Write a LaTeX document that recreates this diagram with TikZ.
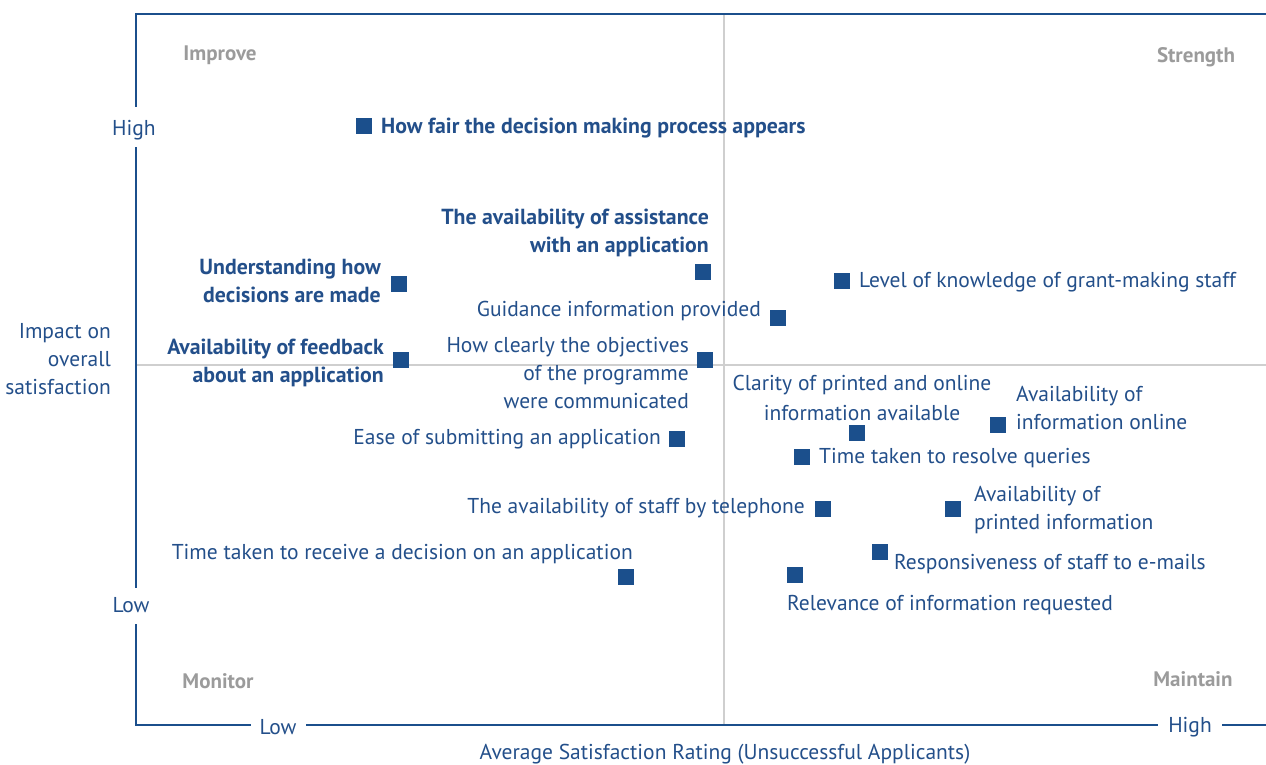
\documentclass[tikz,border=0pt]{standalone}
\usepackage{fontspec}
\setmainfont{PT Sans}
\definecolor{cblue}{HTML}{1B4F8C}
\definecolor{tblue}{HTML}{234F8A}
\definecolor{qgray}{HTML}{9B9B9B}
\definecolor{mgray}{HTML}{CFCFCF}
\tikzset{
  pt/.style={fill=cblue, minimum size=16pt, inner sep=0pt, outer sep=0pt},
  lbl/.style={text=tblue, inner sep=0pt, yshift=-4pt, font=\fontsize{21.5}{25}\selectfont},
  blbl/.style={text=tblue, inner sep=0pt, yshift=-4pt, font=\fontsize{21.8}{25}\selectfont\bfseries},
  quad/.style={text=qgray, inner sep=0pt, yshift=-2pt, font=\fontsize{21}{24}\selectfont\bfseries},
  axis/.style={draw=cblue, line width=2.9pt},
  mid/.style={draw=mgray, line width=1.3pt},
}
\begin{document}
\begin{tikzpicture}[x=1pt,y=-1pt]
\useasboundingbox (0,0) rectangle (1266,764);
% mid lines
\coordinate (vt) at (724,14); \coordinate (vb) at (724,725);
\coordinate (hl) at (136,365); \coordinate (hr) at (1266,365);
\draw[mid] (vt) -- (vb);
\draw[mid] (hl) -- (hr);
% axes
\coordinate (tr) at (1266,14);
\coordinate (tl) at (136,14);
\coordinate (lh1) at (136,107); \coordinate (lh2) at (136,147);
\coordinate (ll1) at (136,588); \coordinate (ll2) at (136,624);
\coordinate (bl) at (136,725);
\coordinate (bx1) at (251,725); \coordinate (bx2) at (306,725);
\coordinate (bx3) at (1158,725); \coordinate (bx4) at (1222,725);
\coordinate (br) at (1266,725);
\draw[axis] (tr) -- (tl) -- (lh1);
\draw[axis] (lh2) -- (ll1);
\draw[axis] (ll2) -- (bl) -- (bx1);
\draw[axis] (bx2) -- (bx3);
\draw[axis] (bx4) -- (br);
% axis labels
\node[lbl, yshift=1pt] (yhigh) at (134,127) {High};
\node[lbl, yshift=1pt] (ylow) at (131,602) {Low};
\node[lbl, anchor=mid east] (ya) at (111,332) {Impact on};
\node[lbl, anchor=mid east] (yb) at (111,360) {overall};
\node[lbl, anchor=mid east] (yc) at (111,388) {satisfaction};
\node[lbl, yshift=1pt] (xlow) at (278,724) {Low};
\node[lbl, yshift=1pt] (xhigh) at (1190,724) {High};
\node[lbl, yshift=1pt] (xt) at (725,751) {Average Satisfaction Rating (Unsuccessful Applicants)};
% quadrant labels
\node[quad] (q1) at (220,53) {Improve};
\node[quad] (q2) at (1196,55) {Strength};
\node[quad] (q3) at (218,679) {Monitor};
\node[quad] (q4) at (1193,677) {Maintain};
% points
\node[pt] (p1) at (364,126) {};
\node[blbl, anchor=mid west] (t1) at (381,127) {How fair the decision making process appears};
\node[pt] (p2) at (703,272) {};
\node[blbl, anchor=mid east] (t2a) at (709,218) {The availability of assistance};
\node[blbl, anchor=mid east] (t2b) at (709,246) {with an application};
\node[pt] (p3) at (399,284) {};
\node[blbl, anchor=mid east] (t3a) at (381,268) {Understanding how};
\node[blbl, anchor=mid east] (t3b) at (381,296) {decisions are made};
\node[pt] (p4) at (842,281) {};
\node[lbl, anchor=mid west] (t4) at (859,281) {Level of knowledge of grant-making staff};
\node[pt] (p5) at (778,318) {};
\node[lbl, anchor=mid east] (t5) at (761,310) {Guidance information provided};
\node[pt] (p6) at (401,360) {};
\node[blbl, anchor=mid east] (t6a) at (384,348) {Availability of feedback};
\node[blbl, anchor=mid east] (t6b) at (384,376) {about an application};
\node[pt] (p7) at (705,360) {};
\node[lbl, anchor=mid east] (t7a) at (689,346) {How clearly the objectives};
\node[lbl, anchor=mid east] (t7b) at (689,374) {of the programme};
\node[lbl, anchor=mid east] (t7c) at (689,402) {were communicated};
\node[pt] (p8) at (857,433) {};
\node[lbl] (t8a) at (862,381) {Clarity of printed and online};
\node[lbl] (t8b) at (862,409) {information available};
\node[pt] (p9) at (998,425) {};
\node[lbl, anchor=mid west] (t9a) at (1016,395) {Availability of};
\node[lbl, anchor=mid west] (t9b) at (1016,423) {information online};
\node[pt] (p10) at (677,439) {};
\node[lbl, anchor=mid east] (t10) at (661,438) {Ease of submitting an application};
\node[pt] (p11) at (802,457) {};
\node[lbl, anchor=mid west] (t11) at (819,457) {Time taken to resolve queries};
\node[pt] (p12) at (823,509) {};
\node[lbl, anchor=mid east] (t12) at (805,507) {The availability of staff by telephone};
\node[pt] (p13) at (953,509) {};
\node[lbl, anchor=mid west] (t13a) at (974,495) {Availability of};
\node[lbl, anchor=mid west] (t13b) at (974,523) {printed information};
\node[pt] (p14) at (880,552) {};
\node[lbl, anchor=mid west] (t14) at (894,563) {Responsiveness of staff to e-mails};
\node[pt] (p15) at (626,577) {};
\node[lbl, anchor=mid east] (t15) at (633,553) {Time taken to receive a decision on an application};
\node[pt] (p16) at (795,575) {};
\node[lbl, anchor=mid west] (t16) at (787,604) {Relevance of information requested};
\end{tikzpicture}
\end{document}
